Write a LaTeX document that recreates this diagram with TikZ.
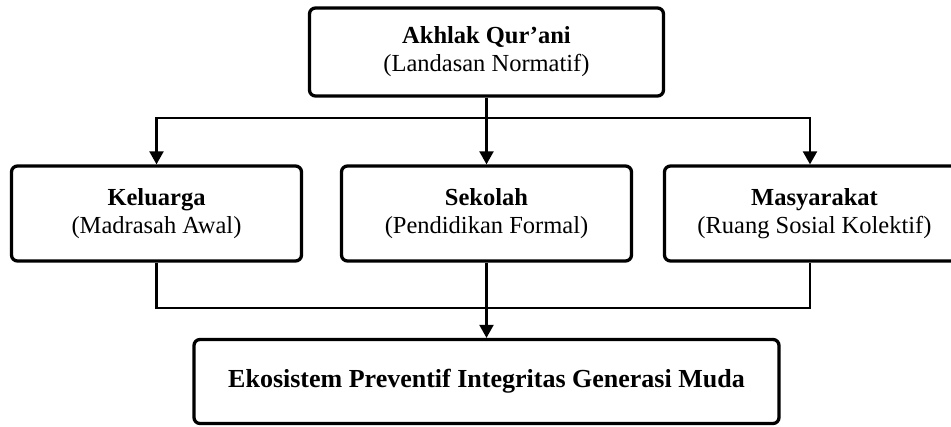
\documentclass[tikz,border=0pt]{standalone}
\usepackage{fontspec}
\setmainfont{Liberation Serif}
\usetikzlibrary{arrows.meta}
\begin{document}
\begin{tikzpicture}[x=1pt,y=-1pt,
  box/.style={draw, line width=3.3pt, rounded corners=6pt, align=center, inner sep=0pt,
    font=\fontsize{24.5}{28}\selectfont},
  conn/.style={line width=2.2pt},
  arr/.style={conn, -{Triangle[width=14pt,length=13pt]}}]
\useasboundingbox (0,0) rectangle (951,426);
\node[box, minimum width=354pt, minimum height=88pt] (top) at (486.5,52) {\textbf{Akhlak Qur’ani}\\(Landasan Normatif)};
\node[box, minimum width=290pt, minimum height=95pt] (kel) at (156.5,213.5) {\textbf{Keluarga}\\(Madrasah Awal)};
\node[box, minimum width=290pt, minimum height=95pt] (sek) at (486.5,213.5) {\textbf{Sekolah}\\(Pendidikan Formal)};
\node[box, minimum width=300pt, minimum height=95pt] (mas) at (814.5,213.5) {\textbf{Masyarakat}\\(Ruang Sosial Kolektif)};
\node[box, minimum width=585pt, minimum height=84pt, font=\fontsize{26}{28}\selectfont] (eko) at (486.5,381.5) {\textbf{Ekosistem Preventif Integritas Generasi Muda}};
\coordinate (j1) at (486.5,118);
\coordinate (j2) at (486.5,308);
\coordinate (mt) at ([xshift=-4.5pt]mas.north);
\coordinate (mb) at ([xshift=-4.5pt]mas.south);
\draw[arr] (top.south) -- (sek.north);
\draw[arr] (j1) -| (kel.north);
\draw[arr] (j1) -| (mt);
\draw[conn] (kel.south) |- (j2) -| (mb);
\draw[arr] (sek.south) -- (eko.north);
\end{tikzpicture}
\end{document}
